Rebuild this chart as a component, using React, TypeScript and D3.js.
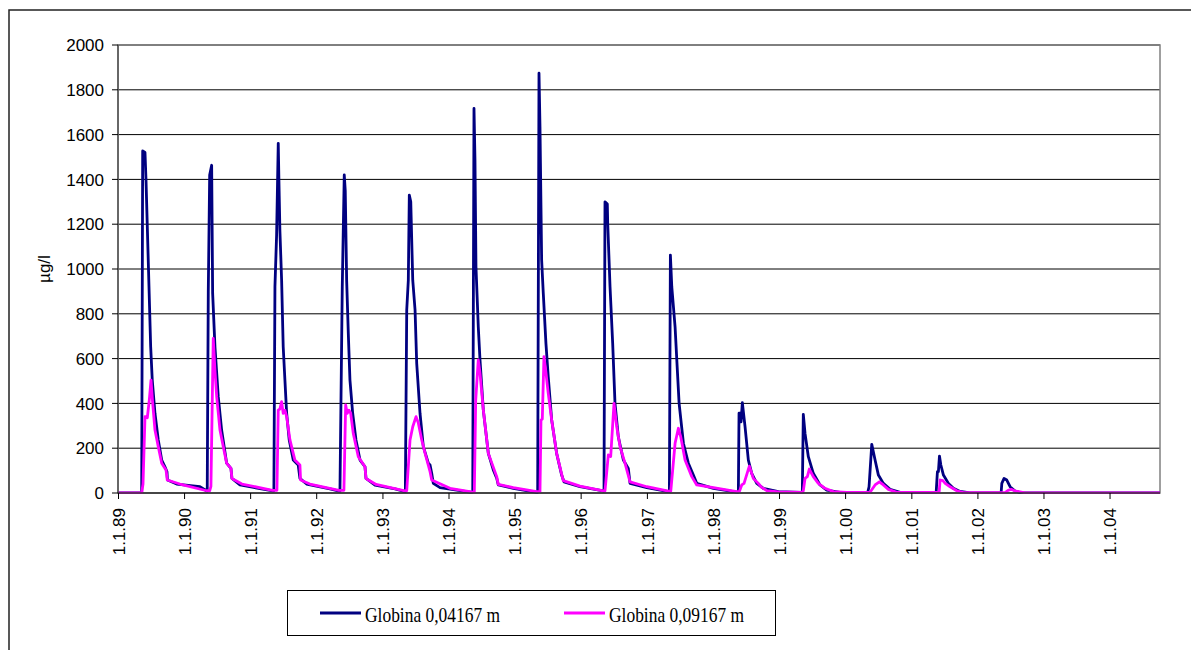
import React from "react";
import * as d3 from "d3";

// Time stamps are decimal years, values in µg/l
const navySeries: [number, number][] = [
  [1989.0, 0], [1989.351, 0], [1989.366, 1527], [1989.401, 1520], [1989.416, 1400], [1989.454, 1000], [1989.487, 653], [1989.511, 504], [1989.552, 356], [1989.602, 237], [1989.654, 147], [1989.703, 117], [1989.734, 95], [1989.741, 58], [1989.88, 40], [1990.233, 28], [1990.343, 8],
  [1990.359, 900], [1990.38, 1420], [1990.41, 1463], [1990.425, 891], [1990.46, 653], [1990.51, 430], [1990.561, 281], [1990.637, 133], [1990.702, 110], [1990.717, 65], [1990.838, 36], [1991.141, 20], [1991.337, 10],
  [1991.352, 10], [1991.368, 921], [1991.393, 1150], [1991.418, 1561], [1991.428, 1397], [1991.443, 1172], [1991.469, 950], [1991.493, 653], [1991.519, 504], [1991.545, 356], [1991.584, 237], [1991.645, 147], [1991.72, 125], [1991.746, 65], [1991.847, 40], [1992.2, 18], [1992.34, 8],
  [1992.351, 8], [1992.386, 921], [1992.416, 1420], [1992.431, 1350], [1992.452, 950], [1992.477, 713], [1992.502, 504], [1992.543, 356], [1992.593, 237], [1992.654, 147], [1992.729, 117], [1992.744, 65], [1992.88, 35], [1993.183, 18], [1993.334, 6],
  [1993.339, 6], [1993.36, 817], [1993.384, 950], [1993.399, 1330], [1993.421, 1300], [1993.451, 950], [1993.486, 817], [1993.511, 579], [1993.561, 356], [1993.611, 207], [1993.687, 133], [1993.713, 125], [1993.738, 88], [1993.762, 43], [1993.864, 24], [1994.343, 3],
  [1994.359, 3], [1994.378, 1717], [1994.393, 1487], [1994.408, 1010], [1994.443, 742], [1994.469, 594], [1994.519, 371], [1994.595, 177], [1994.67, 103], [1994.722, 66], [1994.746, 36], [1994.973, 21], [1995.327, 3],
  [1995.342, 3], [1995.362, 1874], [1995.377, 1635], [1995.402, 1040], [1995.427, 891], [1995.467, 668], [1995.502, 519], [1995.554, 326], [1995.629, 177], [1995.705, 80], [1995.74, 50], [1995.982, 28], [1996.334, 9],
  [1996.345, 9], [1996.36, 1300], [1996.395, 1290], [1996.401, 1204], [1996.436, 921], [1996.476, 668], [1996.511, 400], [1996.561, 251], [1996.637, 147], [1996.712, 110], [1996.738, 43], [1996.991, 24], [1997.318, 6],
  [1997.333, 6], [1997.348, 1062], [1997.369, 921], [1997.419, 742], [1997.445, 594], [1997.48, 400], [1997.545, 222], [1997.62, 133], [1997.696, 80], [1997.747, 43], [1997.999, 21], [1998.352, 4],
  [1998.377, 4], [1998.387, 356], [1998.402, 356], [1998.418, 318], [1998.437, 403], [1998.478, 296], [1998.528, 147], [1998.579, 88], [1998.655, 43], [1998.755, 21], [1998.982, 6], [1999.34, 3],
  [1999.345, 3], [1999.36, 351], [1999.386, 266], [1999.436, 162], [1999.511, 88], [1999.613, 36], [1999.714, 13], [1999.915, 3], [2000.324, 2],
  [2000.334, 3], [2000.354, 28], [2000.395, 217], [2000.445, 147], [2000.495, 80], [2000.57, 43], [2000.672, 16], [2000.823, 3], [2001.352, 2],
  [2001.368, 2], [2001.387, 95], [2001.402, 95], [2001.418, 165], [2001.439, 125], [2001.478, 80], [2001.554, 43], [2001.629, 21], [2001.731, 7], [2001.882, 1], [2002.336, 0],
  [2002.351, 0], [2002.362, 43], [2002.396, 65], [2002.437, 58], [2002.487, 28], [2002.563, 9], [2002.638, 2], [2002.79, 0], [2004.76, 0],
];

const pinkSeries: [number, number][] = [
  [1989.0, 0], [1989.351, 0], [1989.371, 40], [1989.401, 341], [1989.436, 336], [1989.466, 415], [1989.492, 504], [1989.517, 402], [1989.552, 281], [1989.602, 207], [1989.654, 133], [1989.719, 103], [1989.738, 58], [1989.93, 40], [1990.334, 10],
  [1990.38, 10], [1990.399, 30], [1990.434, 690], [1990.46, 548], [1990.486, 430], [1990.536, 281], [1990.586, 207], [1990.637, 133], [1990.702, 110], [1990.717, 65], [1990.868, 40], [1991.33, 12],
  [1991.398, 12], [1991.418, 370], [1991.443, 375], [1991.469, 408], [1991.493, 356], [1991.519, 370], [1991.545, 341], [1991.595, 237], [1991.67, 147], [1991.746, 125], [1991.756, 58], [1991.897, 40], [1992.336, 12],
  [1992.411, 12], [1992.437, 393], [1992.461, 356], [1992.487, 370], [1992.513, 356], [1992.552, 266], [1992.628, 162], [1992.729, 117], [1992.744, 65], [1992.896, 38], [1993.33, 10],
  [1993.36, 10], [1993.41, 237], [1993.451, 296], [1993.501, 341], [1993.536, 312], [1993.587, 237], [1993.637, 178], [1993.713, 95], [1993.738, 58], [1994.015, 21], [1994.359, 4],
  [1994.383, 4], [1994.404, 415], [1994.443, 594], [1994.469, 535], [1994.519, 371], [1994.595, 177], [1994.722, 73], [1994.746, 38], [1994.973, 24], [1995.327, 6],
  [1995.377, 6], [1995.392, 326], [1995.412, 330], [1995.437, 609], [1995.463, 549], [1995.502, 445], [1995.554, 326], [1995.629, 177], [1995.729, 55], [1995.982, 31], [1996.334, 10],
  [1996.36, 10], [1996.41, 170], [1996.446, 163], [1996.496, 400], [1996.537, 296], [1996.587, 207], [1996.662, 133], [1996.738, 50], [1996.991, 28], [1997.318, 8],
  [1997.354, 8], [1997.419, 222], [1997.469, 289], [1997.505, 251], [1997.57, 147], [1997.672, 73], [1997.747, 36], [1997.999, 24], [1998.352, 6],
  [1998.392, 6], [1998.428, 36], [1998.463, 43], [1998.543, 120], [1998.604, 65], [1998.679, 43], [1998.73, 25], [1998.806, 11], [1998.982, 5], [1999.34, 3],
  [1999.36, 10], [1999.386, 65], [1999.421, 73], [1999.451, 107], [1999.511, 73], [1999.587, 43], [1999.688, 21], [1999.814, 6], [2000.017, 3],
  [2000.369, 3], [2000.445, 36], [2000.51, 50], [2000.57, 36], [2000.646, 16], [2000.773, 3],
  [2001.413, 3], [2001.428, 58], [2001.469, 55], [2001.504, 43], [2001.579, 28], [2001.681, 10], [2001.781, 2],
  [2002.412, 2], [2002.457, 12], [2002.502, 16], [2002.578, 8], [2002.714, 1], [2002.865, 0], [2004.76, 0],
];

const seriesNames = ["Globina 0,04167 m", "Globina 0,09167 m"];
const seriesColors = ["#000080", "#FF00FF"];
const yTicks = [0, 200, 400, 600, 800, 1000, 1200, 1400, 1600, 1800, 2000];
const xTickYears = [1989, 1990, 1991, 1992, 1993, 1994, 1995, 1996, 1997, 1998, 1999, 2000, 2001, 2002, 2003, 2004];
const xTickLabels = ["1.1.89", "1.1.90", "1.1.91", "1.1.92", "1.1.93", "1.1.94", "1.1.95", "1.1.96", "1.1.97", "1.1.98", "1.1.99", "1.1.00", "1.1.01", "1.1.02", "1.1.03", "1.1.04"];
const yLabel = "µg/l";

const toDate = (t: number) => {
  const y = Math.floor(t);
  const s = new Date(y, 0, 1).getTime();
  const e = new Date(y + 1, 0, 1).getTime();
  return new Date(s + (t - y) * (e - s));
};

export default function App() {
  const W = 1191, H = 650;
  const left = 118, right = 1160, top = 45, bottom = 493;
  const x = d3.scaleTime().domain([new Date(1989, 0, 1), new Date(2004, 9, 3)]).range([left + 0.5, right]);
  const y = d3.scaleLinear().domain([0, 2000]).range([bottom, top]);
  const line = d3.line<[number, number]>().x((d) => x(toDate(d[0]))).y((d) => y(d[1]));
  const axisFont = "Arial, 'Liberation Sans', sans-serif";
  const serif = "'Times New Roman', 'Liberation Serif', serif";

  return (
    <svg width={W} height={H} style={{ position: "absolute", left: 0, top: 0, background: "#fff" }}>
      <rect x={0} y={0} width={W} height={H} fill="#fff" />
      {/* outer chart border */}
      <rect x={9} y={10} width={1300} height={800} fill="none" stroke="#222" strokeWidth={1.5} />
      {/* gridlines */}
      {yTicks.map((t) => (
        <line key={"g" + t} x1={left} x2={right} y1={y(t)} y2={y(t)} stroke="#000" strokeWidth={1} />
      ))}
      {/* plot area frame */}
      <rect x={left} y={top} width={right - left} height={bottom - top} fill="none" stroke="#808080" strokeWidth={1.5} />
      <defs>
        <clipPath id="plotClip">
          <rect x={left} y={top - 2} width={right - left} height={bottom - top + 3} />
        </clipPath>
      </defs>
      <g clipPath="url(#plotClip)">
        <path d={line(navySeries) || ""} fill="none" stroke={seriesColors[0]} strokeWidth={2.8} strokeLinejoin="round" />
        <path d={line(pinkSeries) || ""} fill="none" stroke={seriesColors[1]} strokeWidth={2.8} strokeLinejoin="round" />
      </g>
      {/* axes */}
      <line x1={left} x2={left} y1={top} y2={bottom} stroke="#555" strokeWidth={1.5} />
      <line x1={left} x2={right} y1={bottom} y2={bottom} stroke="#333" strokeWidth={1.5} />
      {yTicks.map((t) => (
        <g key={"y" + t}>
          <line x1={left - 6} x2={left} y1={y(t)} y2={y(t)} stroke="#000" strokeWidth={1} />
          <text x={104} y={y(t)} dy="0.36em" textAnchor="end" fontFamily={axisFont} fontSize={17} fill="#000">
            {t}
          </text>
        </g>
      ))}
      {xTickYears.map((yr, i) => {
        const px = x(new Date(yr, 0, 1));
        return (
          <g key={"x" + yr}>
            <line x1={px} x2={px} y1={bottom} y2={bottom + 6} stroke="#000" strokeWidth={1} />
            <text
              transform={`translate(${px},508) rotate(-90)`}
              dy="0.36em"
              textAnchor="end"
              fontFamily={axisFont}
              fontSize={17}
              fill="#000"
            >
              {xTickLabels[i]}
            </text>
          </g>
        );
      })}
      <text transform="translate(44,269) rotate(-90)" dy="0.36em" textAnchor="middle" fontFamily={axisFont} fontSize={17} fill="#000">
        {yLabel}
      </text>
      {/* legend */}
      <rect x={287.5} y={590.5} width={488} height={45} fill="#fff" stroke="#000" strokeWidth={1} />
      {seriesNames.map((name, i) => {
        const lx = i === 0 ? 320 : 564;
        return (
          <g key={name}>
            <line x1={lx} x2={lx + 41} y1={613} y2={613} stroke={seriesColors[i]} strokeWidth={3} />
            <text x={lx + 45} y={621.5} fontFamily={serif} fontSize={21} textLength={135} lengthAdjust="spacingAndGlyphs" fill="#000">
              {name}
            </text>
          </g>
        );
      })}
    </svg>
  );
}
